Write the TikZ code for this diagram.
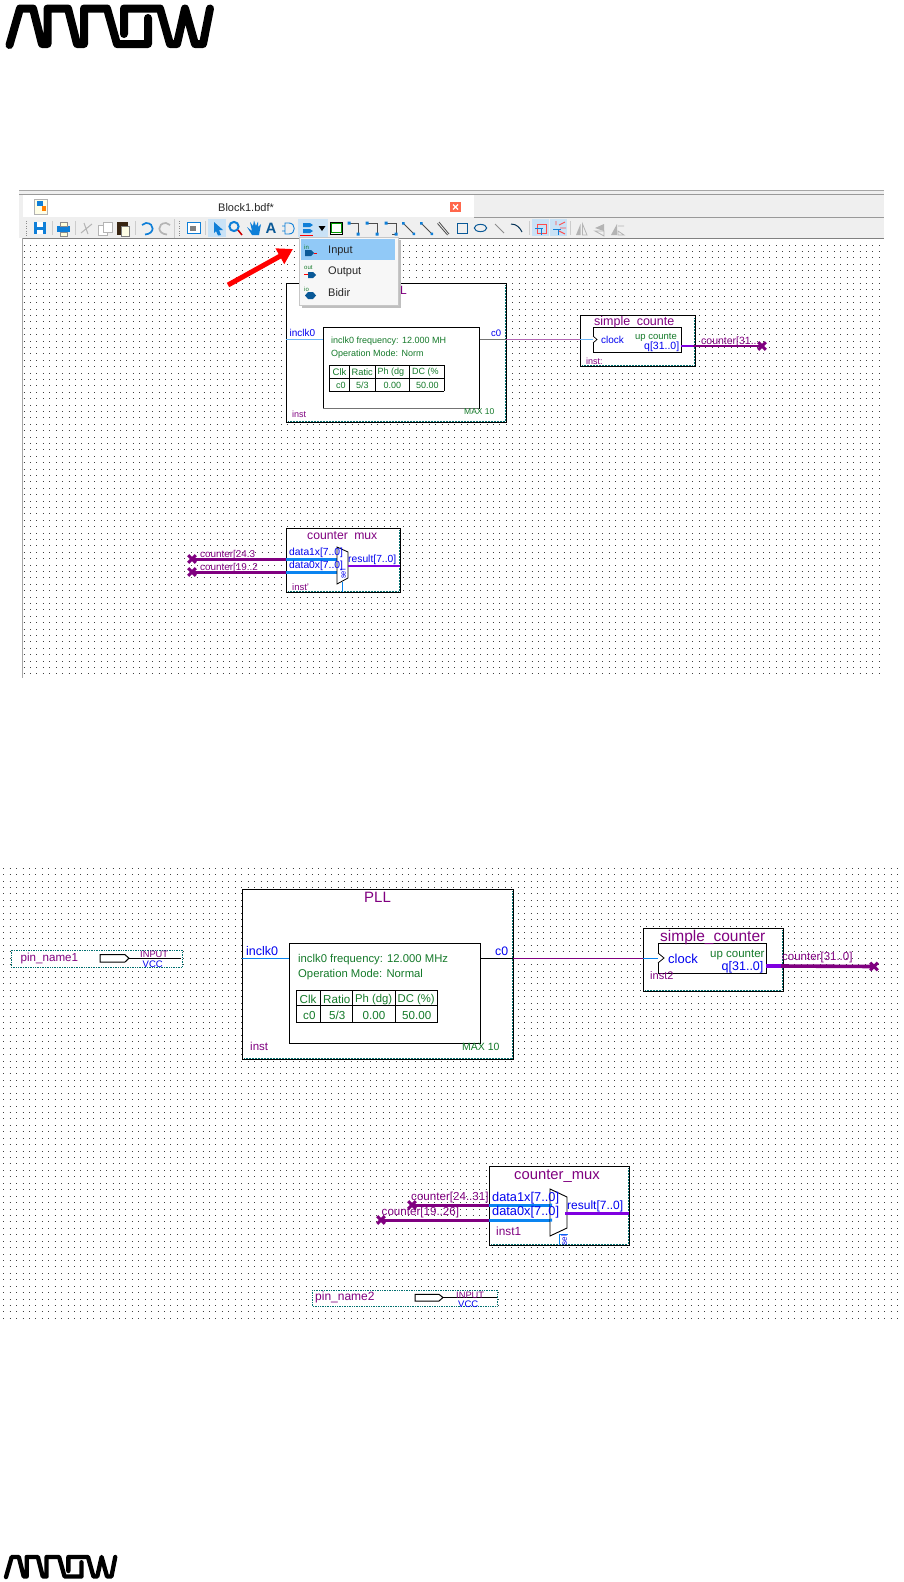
\documentclass[tikz,border=0pt]{standalone}
\usepackage{fontspec}
\setmainfont{Liberation Sans}
\usetikzlibrary{arrows.meta,calc}
\definecolor{qpurple}{HTML}{800080}
\definecolor{qviolet}{HTML}{8000E0}
\definecolor{qblue}{HTML}{0000F0}
\definecolor{qwire}{HTML}{0A84F0}
\definecolor{qgreen}{HTML}{157A2A}
\definecolor{qteal}{HTML}{007070}
\definecolor{barbg}{HTML}{EFEFEF}
\definecolor{hilite}{HTML}{C9E2F6}
\definecolor{menusel}{HTML}{91C9F7}
\definecolor{iconblue}{HTML}{0F7FD8}
\definecolor{icongray}{HTML}{B4B4B4}
\tikzset{
  x=1pt,y=-1pt,
  lbl/.style={inner sep=0pt,anchor=west},
  sz/.style={font=\fontsize{#1}{#1}\selectfont},
  pur/.style={lbl,text=qpurple},
  blu/.style={lbl,text=qblue},
  grn/.style={lbl,text=qgreen},
  gridrow/.style={line width=.8pt,black!75,dash pattern=on .8pt off 5.63pt},
  blockbox/.style={draw=black,fill=white,line width=.95pt},
  innerbox/.style={draw=black,fill=white,line width=.9pt},
  tab/.style={draw=black,line width=.9pt},
  wire/.style={line width=1pt},
  bus/.style={line width=3pt},
  xstroke/.style={line width=3pt,qpurple},
  pinbox/.style={draw=qteal,fill=white,line width=.7pt,densely dotted},
  edgedots/.style={draw=qteal,line width=.5pt,densely dotted},
  logo/.style={line width=#1,line cap=round,line join=round,black},
  ic/.style={line width=1.1pt,iconblue},
  icg/.style={line width=1pt,icongray},
}
\newcommand{\logopath}{%
  (9.5,45) -- (20,8.5) -- (33,8.5) -- (42,44) -- (47.5,44) -- (47.5,8.5) -- (68,8.5) -- (77,44) -- (84,44) -- (84,8.5) -- (107,8.5) -- (117,44) -- (148,44) -- (148,18)
  (124,34) -- (124,8.5) -- (160,8.5) -- (170,44) -- (177,44) -- (185,8.5) -- (195,44) -- (203,44) -- (210,8.5)}
\newcommand{\xmark}[3]{\coordinate (#1) at (#2,#3);
  \draw[xstroke] ($(#1)+(-3.8,-3.8)$) -- ($(#1)+(3.8,3.8)$) ($(#1)+(-3.8,3.8)$) -- ($(#1)+(3.8,-3.8)$);}
\begin{document}
\begin{tikzpicture}
\useasboundingbox (0,0) rectangle (903,1582);
\fill[white] (0,0) rectangle (903,1582);
% logos
\draw[logo=8pt] \logopath;
\begin{scope}[shift={(0.8,1552.3)},x=.545pt,y=-.55pt]
  \draw[logo=4.3pt] \logopath;
\end{scope}
% ===== top panel
\fill[barbg] (19,190) rectangle (884,238);
\draw[black!35,line width=.8pt] (19,190.5) -- (884,190.5);
\draw[black!40,line width=.8pt] (19,194.5) -- (884,194.5);
\fill[white] (23,195) rectangle (474,217);
\draw[black!40,line width=.8pt] (474,217.5) -- (884,217.5);
\draw[black!50,line width=1pt] (22,238.5) -- (884,238.5);
\draw[black!35,line width=.8pt] (22,238) -- (22,678);
\foreach \i in {0,...,67} {
  \draw[gridrow] (23.6,{245+\i*6.4}) -- (883,{245+\i*6.4});
}
% tab
\node[lbl,sz=11,text=black!85] (tabtitle) at (218,208) {Block1.bdf*};
\fill[orange!30!red!70] (450,202) rectangle (461,212);
\draw[white,line width=1.3pt] (453,204.5) -- (458,209.5) (453,209.5) -- (458,204.5);
\draw[black!30,fill=yellow!10] (34,199) rectangle (47,214);
\fill[iconblue] (37,201) rectangle (43,206);
\fill[orange] (42,206) rectangle (46,211);
% toolbar highlights
\fill[hilite] (208,219) rectangle (226,237);
\fill[hilite] (298,219) rectangle (316,237);
\fill[hilite] (316,219) rectangle (328,237);
\fill[hilite] (532,219) rectangle (549,236);
\fill[hilite] (550,219) rectangle (567,236);
% toolbar grips and separators
\draw[black!45,line width=.8pt,dash pattern=on 1pt off 1.4pt] (26,221) -- (26,236) (179,221) -- (179,236);
\draw[black!20,line width=.8pt] (52,221) -- (52,235) (75,221) -- (75,235) (135,221) -- (135,235) (174,219) -- (174,238) (205,221) -- (205,235) (529,221) -- (529,235) (570,221) -- (570,235);
% save
\fill[iconblue] (34,222) rectangle (46,234);
\fill[white] (37,222) rectangle (43,227);
\fill[white] (37,230) rectangle (43,234);
% print
\fill[iconblue] (57,226) rectangle (70,232);
\draw[black!45,fill=yellow!15,line width=.7pt] (60,222) rectangle (67,226) (60,232) rectangle (67,236);
% cut
\draw[icg] (81,233) -- (92,224) (84,223) -- (88,234);
% copy
\draw[icg,fill=white,line width=.8pt] (98,225) rectangle (107,235);
\draw[icg,fill=white,line width=.8pt] (103,222) rectangle (112,232);
% paste
\fill[black!70!brown] (117,222) rectangle (128,235);
\draw[black!50,fill=yellow!10,line width=.6pt] (121,226) rectangle (129,236);
% undo redo
\draw[ic,line width=1.7pt] (145,234.5) .. controls (155,234) and (155,223) .. (146,223) -- (142,225);
\draw[icg,line width=1.7pt] (167,234.5) .. controls (157,234) and (157,223) .. (166,223) -- (170,225);
% ic
\draw[iconblue,fill=white,line width=1pt] (187,222) rectangle (200,233);
\fill[black!50] (190,226) rectangle (196,231);
% cursor
\fill[iconblue] (214,222) -- (223,230) -- (219,230) -- (221,235) -- (218,235.5) -- (216,231) -- (214,233) -- cycle;
% zoom
\draw[ic,line width=2pt] (234,226.5) circle[radius=4.6];
\draw[red!80!black,line width=1.5pt] (238,230) -- (242,235);
% hand
\fill[iconblue] (247,227) -- (252,231) -- (250,222) -- (253,226) -- (254,220.5) -- (256,226) -- (258,221.5) -- (258,227) -- (261,224) -- (259,235) -- (252,235) -- cycle;
% A
\node[lbl,text=iconblue!70!black,font=\fontsize{15}{15}\selectfont\bfseries] (iconA) at (265.5,228.5) {A};
% gate
\draw[ic,line width=.9pt] (285,223) -- (289,223) .. controls (296,223) and (296,234) .. (289,234) -- (285,234) -- cycle (282,226) -- (285,226) (282,231) -- (285,231);
% pin tool
\fill[iconblue] (303,223) -- (310,223) -- (313,225) -- (310,227) -- (303,227) -- cycle;
\fill[iconblue] (303,229) -- (310,229) -- (313,231) -- (310,233) -- (303,233) -- cycle;
\draw[red,line width=.8pt] (300,235) -- (313,235);
\fill[black] (318.5,226) -- (325.5,226) -- (322,231) -- cycle;
% rectangle tool, wires
\draw[black,line width=.8pt,fill=white] (330,222) rectangle (342.5,234);
\draw[green!60!black,line width=1pt] (331.5,223.5) rectangle (341,232.5);
\draw[black!70,line width=1pt] (349,223) -- (358,223) -- (358,234);
\fill[iconblue] (347.5,221.5) rectangle (350.5,224.5) (356.5,232.5) rectangle (359.5,235.5);
\draw[black!70,line width=1pt] (367,223) -- (377,223) -- (377,234);
\fill[iconblue] (365.5,221.5) rectangle (368.5,224.5) (375.5,232.5) rectangle (378.5,235.5);
\draw[black!70,line width=1pt] (386,223) -- (396,223) -- (396,234) -- (392,234);
\fill[iconblue] (384.5,221.5) rectangle (387.5,224.5) (394.5,232.5) rectangle (397.5,235.5);
\draw[black!70,line width=1pt] (403,223) -- (414,234) (421,223) -- (432,234);
\fill[iconblue] (402,222) rectangle (404.5,224.5) (412.5,232.5) rectangle (415,235) (420,222) rectangle (422.5,224.5) (430.5,232.5) rectangle (433,235);
\draw[black!70,line width=.8pt] (439,222) -- (449,234) (437.5,223.5) -- (447.5,235);
% shapes
\draw[iconblue!70!black,line width=1pt] (457.5,223) rectangle (467.5,233);
\draw[iconblue!70!black,line width=1pt] (480.5,228) ellipse[x radius=6.2,y radius=3.6];
\draw[black!45,line width=1pt] (495,224) -- (504,233);
\draw[iconblue!40!black,line width=1pt] (511,224) .. controls (517,224) and (520,228) .. (522,232);
% snap tools
\draw[red!70,line width=.9pt] (537,224) rectangle (546,233);
\draw[iconblue,line width=1pt] (535,228) -- (543,228) (541.5,228) -- (541.5,235);
\draw[iconblue,line width=1pt] (553,229) -- (561,229) (558,229) -- (558,235);
\draw[red!70,line width=.9pt] (559,225) -- (565,222) (560,228) -- (566,228) (559,231) -- (565,234) (556,225) -- (556,221);
% flips
\fill[icongray] (576,235) -- (580.5,224) -- (580.5,235) -- cycle;
\draw[icg,line width=.8pt] (582.5,224) -- (587,235) -- (582.5,235) -- cycle;
\fill[icongray] (604,231) -- (595,228) -- (604,224) -- cycle;
\draw[icg,line width=.8pt] (595,231) -- (604,231) -- (604,236) -- cycle;
\fill[icongray] (611,235) -- (617,224) -- (617,235) -- cycle;
\draw[icg,line width=.8pt] (618,226) -- (624,226) (618,231) -- (624,235) -- (618,235) -- cycle;
% PLL top
\draw[blockbox] (286,283) rectangle (506,422);
\draw[edgedots] (505,285) -- (505,421) (288,421) -- (505,421);
\coordinate (pllAin) at (286,339);
\coordinate (pllAi) at (323,339);
\coordinate (pllAo) at (479,339);
\coordinate (pllAr) at (506,339);
\coordinate (cntAin) at (593,339);
\coordinate (cntAl) at (580,339);
\draw[wire,qwire!60,line width=.9pt] (pllAin) -- (pllAi);
\draw[wire,black!55,line width=.9pt] (pllAo) -- (pllAr);
\draw[wire,qpurple!60,line width=.9pt] (pllAr) -- (cntAl);
\draw[innerbox] (323,327) -- (479,327) -- (479,408) -- (323,408) -- cycle;
\draw[black!55,line width=1pt] (323,408) -- (479,408);
\node[pur,sz=12] (pllAtitle) at (400,290) {L};
\node[blu,sz=10] (pllAclk) at (289.5,333) {inclk0};
\node[blu,sz=9.5] (pllAc0) at (491,333) {c0};
\node[grn,sz=9] (pllAf) at (331,341) {inclk0 frequency: 12.000 MH};
\node[grn,sz=9] (pllAm) at (331,354) {Operation Mode: Norm};
\draw[tab] (329,365) -- (444,365) (329,378) -- (444,378) (329,391) -- (444,391);
\draw[tab] (329.5,365) -- (329.5,391) (349.5,365) -- (349.5,391) (375.5,365) -- (375.5,391) (409.5,365) -- (409.5,391) (444,365) -- (444,391);
\node[grn,sz=9.5] (pllAh1) at (332.5,372) {Clk};
\node[grn,sz=9.3] (pllAh2) at (351.5,372) {Ratic};
\node[grn,sz=9] (pllAh3) at (377.5,372) {Ph (dg};
\node[grn,sz=9] (pllAh4) at (412,372) {DC (\%};
\node[grn,sz=9] (pllAv1) at (336,385) {c0};
\node[grn,sz=9] (pllAv2) at (356,385) {5/3};
\node[grn,sz=9] (pllAv3) at (383.5,385) {0.00};
\node[grn,sz=9] (pllAv4) at (416,385) {50.00};
\node[grn,sz=8.5] (pllAmax) at (464,411.5) {MAX 10};
\node[pur,sz=9] (pllAinst) at (292,414.5) {inst};
% simple counter top
\draw[blockbox] (580,315) rectangle (695,366);
\draw[edgedots] (694,318) -- (694,365) (582,365) -- (692,365);
\draw[wire,qwire!60,line width=.9pt] (cntAl) -- (cntAin);
\draw[innerbox] (593,327) rectangle (681,352);
\draw[black,line width=.7pt,fill=white] (593,336) -- (597,339.5) -- (593,343);
\node[pur,sz=12.5] (cntAt) at (594,322.5) {simple\hspace{3pt} counte};
\node[blu,sz=10] (cntAc) at (601,339.5) {clock};
\node[grn,sz=9.5] (cntAu) at (635,337) {up counte};
\node[blu,sz=10.5] (cntAq) at (644,347) {q[31..0]};
\node[pur,sz=9] (cntAinst) at (586,361) {inst:};
\coordinate (cntAo) at (681,346);
\coordinate (cntAob) at (693,346);
\xmark{xA}{762}{346}
\draw[qpurple,line width=2.5pt] (cntAo) -- (xA);
\draw[qviolet,line width=2.5pt] (cntAo) -- (cntAob);
\node[pur,sz=10.5] (cntAlab) at (701,342) {counter[31..};
% mux top
\draw[blockbox] (286,528) rectangle (400,592);
\draw[edgedots] (399,530) -- (399,591) (288,591) -- (398,591);
\xmark{xB}{192}{559}
\xmark{xC}{192}{572}
\coordinate (muxB) at (286,559);
\coordinate (muxC) at (286,572);
\coordinate (muxBi) at (337,559);
\coordinate (muxCi) at (337,572);
\draw[bus,qpurple] (xB) -- (muxB);
\draw[bus,qpurple] (xC) -- (muxC);
\draw[bus,qwire] (muxB) -- (muxBi);
\draw[bus,qwire] (muxC) -- (muxCi);
\draw[black,line width=.8pt,fill=white] (337,547) -- (348,552) -- (348,578) -- (337,584) -- cycle;
\draw[qviolet,line width=1.8pt] (348,566) -- (400,566);
\draw[qwire,line width=.9pt] (342,582) -- (342,592);
\node[pur,sz=12.2] (muxAt) at (307,536) {counter\hspace{3pt} mux};
\node[pur,sz=9.9] (muxAl1) at (200,555) {counter[24.3};
\node[pur,sz=9.9] (muxAl2) at (200,568) {counter[19..2};
\node[blu,sz=10.3] (muxAd1) at (289,553) {data1x[7..0]};
\node[blu,sz=10.3] (muxAd0) at (289,565.5) {data0x[7..0]};
\node[blu,sz=10.3] (muxAr) at (348,560) {result[7..0]};
\node[blu,sz=7.5,rotate=90,anchor=center] (muxAs) at (343,574) {sel};
\node[pur,sz=9.5] (muxAi) at (292,587) {inst'};
% menu
\fill[black!25] (302,240) rectangle (401,307.5);
\fill[black!3] (299,237) rectangle (398,305);
\draw[black!22,line width=.6pt] (299,237) rectangle (398,305);
\fill[menusel] (301,239) rectangle (395,260);
\node[lbl,sz=11,text=black!85] (mInput) at (328,251) {Input};
\node[lbl,sz=11,text=black!85] (mOutput) at (328,272) {Output};
\node[lbl,sz=11,text=black!85] (mBidir) at (328,293) {Bidir};
\node[lbl,sz=6,text=qgreen] (mI1) at (304,247) {in};
\node[lbl,sz=6,text=qgreen] (mI2) at (304,268) {out};
\node[lbl,sz=6,text=qgreen] (mI3) at (304,289) {io};
\fill[iconblue!70!black] (305,250) -- (311,250) -- (314,253) -- (311,256) -- (305,256) -- cycle;
\draw[red,line width=.7pt] (314,253.5) -- (317,253.5);
\fill[iconblue!70!black] (308,272) -- (313,272) -- (316,275) -- (313,278) -- (308,278) -- cycle;
\draw[red,line width=.7pt] (304,274.5) -- (308,274.5);
\fill[iconblue!70!black] (308,292) -- (313,292) -- (316,295.5) -- (313,299) -- (308,299) -- (305,295.5) -- cycle;
% red arrow
\coordinate (arrTail) at (228,285);
\coordinate (arrTip) at (293,249);
\draw[red,line width=5pt,-{Triangle[length=15pt,width=17pt]}] (arrTail) -- (arrTip);
% ===== bottom panel
\foreach \i in {0,...,70} {
  \draw[gridrow] (3.3,{868.1+\i*6.43}) -- (903,{868.1+\i*6.43});
}
% pin 1
\draw[pinbox] (11,950) rectangle (182,967);
\coordinate (pin1s) at (129,958.2);
\coordinate (pin1e) at (181,958.2);
\draw[black,line width=.8pt] (pin1s) -- (pin1e);
\draw[black,line width=1pt,fill=white] (100,954.7) -- (125,954.7) -- (129,958.2) -- (125,962) -- (100,962) -- cycle;
\node[pur,sz=11.6] (pin1n) at (20.5,958.5) {pin\_name1};
\node[pur,sz=9.3] (pin1t) at (140,954.5) {INPUT};
\node[blu,sz=9.5] (pin1v) at (142.5,964) {VCC};
% PLL
\draw[blockbox] (242,889) rectangle (513,1059);
\draw[edgedots] (512,891) -- (512,1058) (244,1058) -- (512,1058);
\coordinate (pllin) at (242,958);
\coordinate (plli) at (289,958);
\coordinate (pllo) at (480,958);
\coordinate (pllr) at (513,958);
\coordinate (cntl) at (643,958);
\coordinate (cnti) at (658,958);
\draw[wire,qwire] (pllin) -- (plli);
\draw[wire,black] (pllo) -- (pllr);
\draw[wire,qpurple] (pllr) -- (cntl);
\draw[innerbox] (289,943) rectangle (480,1043);
\node[pur,sz=15] (pllt) at (364,897.5) {PLL};
\node[blu,sz=12.5] (pllclk) at (246,951) {inclk0};
\node[blu,sz=12.3] (pllc0) at (495,951) {c0};
\node[grn,sz=11.3] (pllf) at (298,960) {inclk0 frequency: 12.000 MHz};
\node[grn,sz=11.3] (pllm) at (298,975) {Operation Mode: Normal};
\draw[tab] (296,990.5) -- (437.5,990.5) (296,1005.5) -- (437.5,1005.5) (296,1022.5) -- (437.5,1022.5);
\draw[tab] (296.5,990) -- (296.5,1023) (320.5,990) -- (320.5,1023) (352.5,990) -- (352.5,1023) (395,990) -- (395,1023) (437,990) -- (437,1023);
\node[grn,sz=11.6] (pllh1) at (299.5,999.5) {Clk};
\node[grn,sz=11.6] (pllh2) at (323,999.5) {Ratio};
\node[grn,sz=11.3] (pllh3) at (355,999.5) {Ph (dg)};
\node[grn,sz=11.3] (pllh4) at (397.5,999.5) {DC (\%)};
\node[grn,sz=11.6] (pllv1) at (303,1015.5) {c0};
\node[grn,sz=11.6] (pllv2) at (329,1015.5) {5/3};
\node[grn,sz=11.6] (pllv3) at (362.5,1015.5) {0.00};
\node[grn,sz=11.6] (pllv4) at (402,1015.5) {50.00};
\node[grn,sz=10.5] (pllmax) at (462,1047) {MAX 10};
\node[pur,sz=11.5] (pllinst) at (250,1046) {inst};
% simple counter
\draw[blockbox] (643,928) rectangle (783,991);
\draw[edgedots] (782,930) -- (782,990) (645,990) -- (781,990);
\draw[wire,qwire] (cntl) -- (cnti);
\draw[innerbox] (658,943) rectangle (766,973);
\draw[black,line width=.8pt,fill=white] (658,953) -- (664,958) -- (658,963);
\node[pur,sz=15.5] (cntt) at (660,937) {simple\_counter};
\node[blu,sz=13] (cntc) at (668,959) {clock};
\node[grn,sz=11.5] (cntu) at (710,955) {up counter};
\node[blu,sz=12.5] (cntq) at (721.5,967) {q[31..0]};
\node[pur,sz=11] (cnti2) at (650,976) {inst2};
\coordinate (cnto) at (766,966);
\coordinate (cntob) at (781,966);
\xmark{xD}{874}{966.5}
\draw[line width=3.6pt,qpurple] (cntob) -- (xD);
\draw[line width=3.6pt,qviolet] (cnto) -- (cntob);
\node[pur,sz=11.5] (cntlab) at (782,958) {counter[31..0]};
% mux
\draw[blockbox] (489,1166) rectangle (629,1245);
\draw[edgedots] (628,1168) -- (628,1244) (491,1244) -- (627,1244);
\xmark{xE}{412}{1205}
\xmark{xF}{381}{1220}
\coordinate (muxp) at (489,1205);
\coordinate (muxq) at (489,1220);
\coordinate (muxpi) at (552,1205);
\coordinate (muxqi) at (552,1220);
\draw[line width=3pt,qpurple] (xE) -- (muxp);
\draw[line width=3pt,qpurple] (xF) -- (muxq);
\draw[line width=3pt,qwire] (muxp) -- (muxpi);
\draw[line width=3pt,qwire] (muxq) -- (muxqi);
\draw[black,line width=.9pt,fill=white] (550,1189) -- (567,1197) -- (567,1228) -- (550,1236) -- cycle;
\fill[qwire] (550,1203.5) rectangle (552,1206.5) (550,1218.5) rectangle (552,1221.5);
\draw[line width=2.6pt,qviolet] (565,1213.5) -- (629,1213.5);
\draw[qwire,line width=.9pt] (559,1245) -- (559,1234) -- (568,1234);
\node[pur,sz=14.8] (muxt) at (514,1176) {counter\_mux};
\node[pur,sz=11.6] (muxl1) at (411,1197) {counter[24..31]};
\node[pur,sz=11.6] (muxl2) at (381.5,1212) {counter[19..26]};
\node[blu,sz=12.8] (muxd1) at (492,1198) {data1x[7..0]};
\node[blu,sz=12.8] (muxd0) at (492,1212.5) {data0x[7..0]};
\node[blu,sz=12] (muxr) at (567,1206) {result[7..0]};
\node[blu,sz=8,rotate=90,anchor=center] (muxs) at (564,1240) {sel};
\node[pur,sz=11.8] (muxi) at (496,1231) {inst1};
% pin 2
\draw[pinbox] (312,1290) rectangle (497,1306);
\coordinate (pin2s) at (443,1297.5);
\coordinate (pin2e) at (497,1297.5);
\draw[black,line width=.8pt] (pin2s) -- (pin2e);
\draw[black,line width=1pt,fill=white] (415,1294.3) -- (439,1294.3) -- (443,1297.5) -- (439,1301) -- (415,1301) -- cycle;
\node[pur,sz=12] (pin2n) at (315,1297.5) {pin\_name2};
\node[pur,sz=9.3] (pin2t) at (456,1295) {INPUT};
\node[blu,sz=9.5] (pin2v) at (458,1304) {VCC};
\end{tikzpicture}
\end{document}
